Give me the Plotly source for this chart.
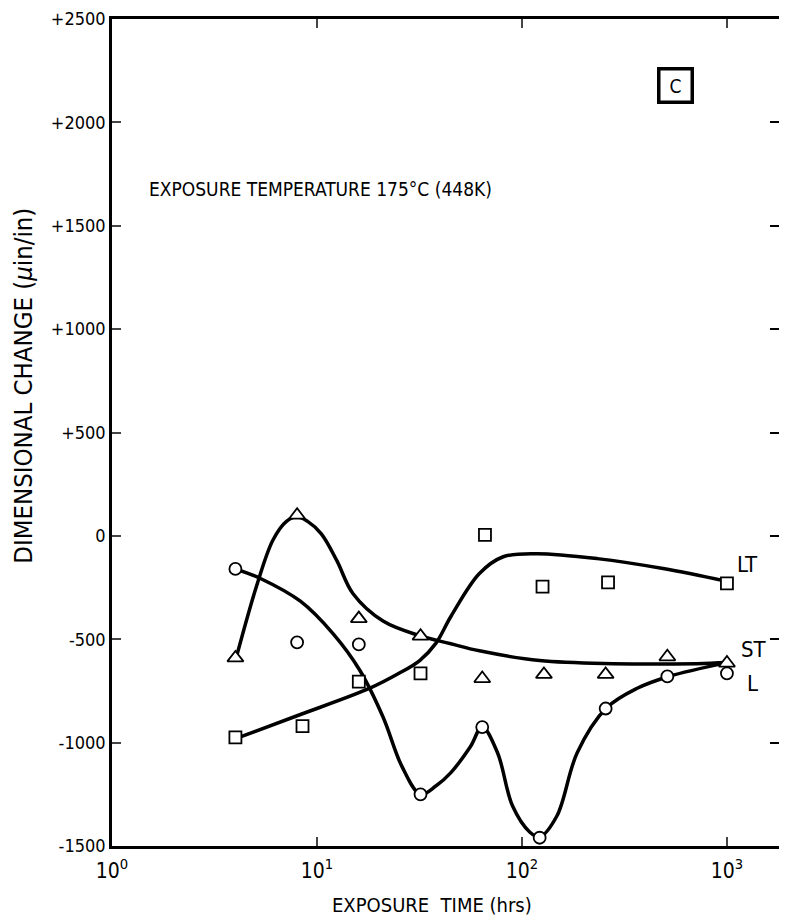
import plotly.graph_objects as go

# ── measured points (exposure time in hrs, dimensional change in µin/in) ──
L_TIME = [4, 8, 16, 32, 64, 122, 256, 512, 1000]
L_CHANGE = [-160, -515, -525, -1250, -925, -1460, -835, -680, -665]

ST_TIME = [4, 8, 16, 32, 64, 128, 256, 512, 1000]
ST_CHANGE = [-590, 100, -400, -485, -690, -670, -670, -585, -615]

LT_TIME = [4, 8.5, 16, 32, 66, 126, 263, 1000]
LT_CHANGE = [-975, -920, -705, -665, 5, -245, -225, -230]

# ── hand-drawn fit curves ──
L_FIT_TIME = [4.1, 5.3, 8.3, 12, 16.2, 21, 26, 32, 38, 45, 56, 64, 76, 90, 109, 122, 148, 186, 258, 365, 520, 1000]
L_FIT_CHANGE = [-163, -206, -316, -474, -651, -876, -1116, -1250, -1210, -1145, -1020, -924, -1049, -1307, -1432, -1456, -1355, -1049, -833, -737, -680, -613]

ST_FIT_TIME = [4.06, 5.1, 6.1, 7.1, 8, 9, 10.5, 12.5, 15, 21, 32, 45, 62, 122, 278, 712, 1000]
ST_FIT_CHANGE = [-580, -235, -20, 70, 92, 70, 10, -120, -280, -412, -484, -522, -556, -603, -618, -618, -613]

LT_FIT_TIME = [4.1, 8, 18, 25, 31.7, 38, 45, 62, 81, 118, 233, 488, 1000]
LT_FIT_CHANGE = [-977, -870, -738, -666, -603, -520, -390, -182, -101, -86, -110, -158, -220]

Y_TICKS = [2500, 2000, 1500, 1000, 500, 0, -500, -1000, -1500]
Y_TICK_TEXT = ["+2500", "+2000", "+1500", "+1000", "+500", "0", "-500", "-1000", "-1500"]
X_TICKS = [1, 10, 100, 1000]
X_TICK_TEXT = ["10<sup>0</sup>", "10<sup>1</sup>", "10<sup>2</sup>", "10<sup>3</sup>"]

FONT = "Liberation Sans Narrow, Arial Narrow, DejaVu Sans Condensed, sans-serif"

fig = go.Figure()

for xs, ys in [(L_FIT_TIME, L_FIT_CHANGE), (ST_FIT_TIME, ST_FIT_CHANGE), (LT_FIT_TIME, LT_FIT_CHANGE)]:
    fig.add_trace(go.Scatter(
        x=xs, y=ys, mode="lines",
        line=dict(color="black", width=3.5, shape="spline", smoothing=1.0),
        hoverinfo="skip", showlegend=False,
    ))

for xs, ys, sym, sz in [(L_TIME, L_CHANGE, "circle", 12),
                        (ST_TIME, ST_CHANGE, "triangle-up", 14),
                        (LT_TIME, LT_CHANGE, "square", 12)]:
    fig.add_trace(go.Scatter(
        x=xs, y=ys, mode="markers",
        marker=dict(symbol=sym, size=sz, color="white",
                    line=dict(color="black", width=1.8)),
        showlegend=False,
    ))

# invisible trace so the right-hand tick axis gets drawn
fig.add_trace(go.Scatter(x=[L_TIME[0]], y=[L_CHANGE[0]], yaxis="y2", mode="markers",
                         marker=dict(opacity=0), hoverinfo="skip", showlegend=False))

# curve labels
for txt, xv, yv in [("LT", 3.04, -140), ("ST", 3.06, -550), ("L", 3.09, -715)]:
    fig.add_annotation(x=xv, y=yv, xref="x", yref="y", text=txt, showarrow=False,
                       xanchor="left", font=dict(family=FONT, size=22, color="black"))

fig.add_annotation(x=0.17, y=1680, xref="x", yref="y", xanchor="left",
                   text="EXPOSURE TEMPERATURE 175°C (448K)", showarrow=False,
                   font=dict(family=FONT, size=19, color="black"))

fig.add_annotation(x=2.75, y=2180, xref="x", yref="y", text="C", showarrow=False,
                   width=24, height=24, bordercolor="black", borderwidth=3.5, borderpad=3,
                   bgcolor="white", font=dict(family=FONT, size=19, color="black"))

fig.add_annotation(x=-0.133, y=0.557, xref="paper", yref="paper", textangle=-90,
                   xanchor="center", yanchor="middle",
                   text="DIMENSIONAL CHANGE (<i>µ</i>in/in)", showarrow=False,
                   font=dict(family=FONT, size=25.5, color="black"))
fig.add_annotation(x=0.48, y=-0.071, xref="paper", yref="paper", yanchor="middle",
                   text="EXPOSURE  TIME (hrs)", showarrow=False,
                   font=dict(family=FONT, size=20, color="black"))

fig.update_xaxes(type="log", range=[0, 3.254], tickvals=X_TICKS, ticktext=X_TICK_TEXT,
                 ticks="inside", ticklen=9, tickwidth=2, showline=True, linewidth=2.5,
                 linecolor="black", mirror="ticks", showgrid=False, zeroline=False,
                 ticklabelstandoff=4,
                 tickfont=dict(family=FONT, size=21, color="black"))

fig.update_layout(
    width=771, height=907,
    margin=dict(l=104, r=0, t=7, b=69),
    plot_bgcolor="white", paper_bgcolor="white",
    yaxis=dict(range=[-1500, 2500], tickvals=Y_TICKS, ticktext=Y_TICK_TEXT,
               ticks="inside", ticklen=9, tickwidth=2, showline=True, linewidth=2.5,
               linecolor="black", showgrid=False, zeroline=False,
               ticklabeloverflow="allow",
               tickfont=dict(family=FONT, size=18, color="black")),
    yaxis2=dict(range=[-1500, 2500], tickvals=Y_TICKS, overlaying="y", side="right",
                ticks="inside", ticklen=9, tickwidth=2, tickcolor="black",
                showline=False, showgrid=False, zeroline=False, showticklabels=False),
)

fig.write_html("out.html")
